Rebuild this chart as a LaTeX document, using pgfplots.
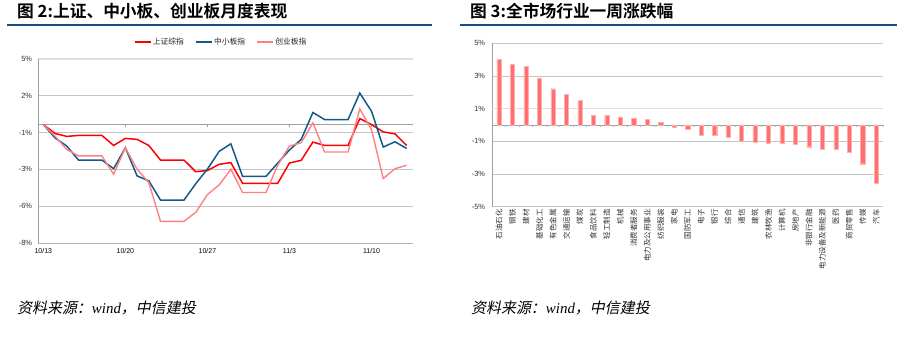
\documentclass[border=0pt]{standalone}
\usepackage{pgfplots}
\pgfplotsset{compat=1.18}
\usepackage{fontspec}
\setmainfont{Liberation Sans}
\newfontfamily\cjk{Noto Sans CJK SC}[BoldFont={Noto Sans CJK SC Bold}]
\newfontfamily\cjksl{Noto Sans CJK SC}[FakeSlant=0.2]
\newfontfamily\serifit{Liberation Serif}
\definecolor{cRed}{HTML}{FF0000}
\definecolor{cBlue}{HTML}{125A8A}
\definecolor{cPink}{HTML}{FF8080}
\definecolor{cBar}{HTML}{FF7171}
\definecolor{cNavy}{HTML}{1B4D85}
\definecolor{cGrid}{HTML}{C4C4C4}
\definecolor{cTxt}{HTML}{333333}
\begin{document}
\begin{tikzpicture}
\path[use as bounding box] (0bp,0bp) rectangle (904bp,339bp);
% titles
\node[anchor=west,inner sep=0pt] at (17bp,327.5bp) {\cjk\bfseries\fontsize{16.8}{17}\selectfont 图 2:上证、中小板、创业板月度表现};
\node[anchor=west,inner sep=0pt] at (470bp,327.5bp) {\cjk\bfseries\fontsize{16.8}{17}\selectfont 图 3:全市场行业一周涨跌幅};
\draw[cNavy,line width=2bp] (7bp,314bp) -- (432bp,314bp);
\draw[cNavy,line width=2bp] (460bp,314bp) -- (897bp,314bp);
% footers
\node[anchor=west,inner sep=0pt] at (17bp,31bp) {\cjksl\fontsize{15}{15}\selectfont 资料来源：{\serifit\itshape wind}，中信建投};
\node[anchor=west,inner sep=0pt] at (471bp,31bp) {\cjksl\fontsize{15}{15}\selectfont 资料来源：{\serifit\itshape wind}，中信建投};

% left chart
\begin{axis}[at={(38.3bp,96bp)}, anchor=south west, scale only axis,
  width=374.7bp, height=184bp,
  xmin=-0.427, xmax=31.54, ymin=-8.37, ymax=4.63,
  axis line style={draw=none},
  ytick={-8.37,-5.77,-3.17,-0.57,2.03,4.63},
  yticklabels={-8\%,-6\%,-3\%,-1\%,2\%,5\%},
  xtick={0,7,14,21,28},
  xticklabels={10/13,10/20,10/27,11/3,11/10},
  major tick length=0pt,
  tick style={draw=none},
  yticklabel style={font=\fontsize{7.5}{8}\selectfont, text=cTxt, inner sep=0pt, xshift=-6bp},
  xticklabel style={font=\fontsize{7}{8}\selectfont, text=black, inner sep=0pt, yshift=-5.5bp},
  ymajorgrids, major grid style={cGrid, line width=0.7bp},
  legend style={at={(0.487,1.094)}, anchor=center, draw=none, fill=none,
     legend columns=3, font=\cjk\fontsize{7.8}{8}\selectfont, text=black!85,
     /tikz/every even column/.append style={column sep=10bp},
     nodes={inner sep=1.2bp}},
  legend image code/.code={\draw[#1] (0bp,0bp) -- (16bp,0bp);},
  legend image post style={line width=1.8bp},
  clip=false,
]
\draw[gray!25,line width=2bp] (rel axis cs:0,1) -- (rel axis cs:1,1);
\draw[gray!75,line width=0.8bp] (axis cs:-0.427,0) -- (axis cs:31.54,0);
\draw[gray!75,line width=0.8bp] (rel axis cs:0,0) -- (rel axis cs:0,1);
\draw[gray!60,line width=0.8bp] (rel axis cs:0,0) -- (rel axis cs:1,0);
\pgfplotsinvokeforeach{7,14,21,28}{\draw[gray!75,line width=0.6bp] (axis cs:#1,0) -- ++(0bp,-2.5bp);}
\addplot[cRed, line width=1.5bp] coordinates {
(0,0) (1,-0.63) (2,-0.84) (3,-0.77) (4,-0.77) (5,-0.77) (6,-1.48) (7,-0.98)
(8,-1.05) (9,-1.48) (10,-2.51) (11,-2.51) (12,-2.51) (13,-3.33) (14,-3.25) (15,-2.81)
(16,-2.69) (17,-4.15) (18,-4.15) (19,-4.15) (20,-4.15) (21,-2.72) (22,-2.53) (23,-1.24)
(24,-1.48) (25,-1.48) (26,-1.48) (27,0.42) (28,0.0) (29,-0.52) (30,-0.66) (31,-1.48)};
\addlegendentry{上证综指}
\addplot[cBlue, line width=1.5bp] coordinates {
(0,0) (1,-0.94) (2,-1.52) (3,-2.51) (4,-2.51) (5,-2.51) (6,-3.12) (7,-1.64)
(8,-3.63) (9,-3.98) (10,-5.34) (11,-5.34) (12,-5.34) (13,-4.19) (14,-3.15) (15,-1.90)
(16,-1.36) (17,-3.66) (18,-3.66) (19,-3.66) (20,-2.72) (21,-1.80) (22,-1.05) (23,0.85)
(24,0.35) (25,0.35) (26,0.35) (27,2.22) (28,0.94) (29,-1.59) (30,-1.22) (31,-1.69)};
\addlegendentry{中小板指}
\addplot[cPink, line width=1.4bp] coordinates {
(0,0) (1,-0.82) (2,-1.76) (3,-2.22) (4,-2.22) (5,-2.22) (6,-3.51) (7,-1.64)
(8,-3.16) (9,-4.10) (10,-6.84) (11,-6.84) (12,-6.84) (13,-6.21) (14,-4.95) (15,-4.27)
(16,-3.16) (17,-4.80) (18,-4.80) (19,-4.80) (20,-2.87) (21,-1.52) (22,-1.29) (23,0.12)
(24,-1.94) (25,-1.94) (26,-1.94) (27,1.10) (28,-0.35) (29,-3.82) (30,-3.12) (31,-2.88)};
\addlegendentry{创业板指}
\end{axis}

% right chart
\begin{axis}[at={(492.3bp,132.3bp)}, anchor=south west, scale only axis,
  width=390.7bp, height=163.4bp,
  xmin=0.5, xmax=29.5, ymin=-5, ymax=5,
  axis line style={draw=none},
  ytick={-5,-3,-1,1,3,5},
  yticklabels={-5\%,-3\%,-1\%,1\%,3\%,5\%},
  xtick={1,...,29},
  xticklabels={石油石化,钢铁,建材,基础化工,有色金属,交通运输,煤炭,食品饮料,轻工制造,机械,消费者服务,电力及公用事业,纺织服装,家电,国防军工,电子,银行,综合,通信,建筑,农林牧渔,计算机,房地产,非银行金融,电力设备及新能源,医药,商贸零售,传媒,汽车},
  major tick length=0pt,
  tick style={draw=none},
  yticklabel style={font=\fontsize{7.5}{8}\selectfont, text=cTxt, inner sep=0pt, xshift=-7bp},
  xticklabel style={font=\cjk\fontsize{7.5}{8}\selectfont, text=cTxt, rotate=90, anchor=east, inner sep=2.5bp},
  ymajorgrids, major grid style={cGrid, line width=0.7bp},
  clip=false,
]
\draw[gray!75,line width=0.8bp] (rel axis cs:0,0) -- (rel axis cs:0,1);
\draw[gray!25,line width=1.6bp] (axis cs:0.5,1) -- (axis cs:29.5,1);
\draw[gray!75,line width=0.8bp] (axis cs:0.5,0) -- (axis cs:29.5,0);
\pgfplotsinvokeforeach{1.5,2.5,3.5,4.5,5.5,6.5,7.5,8.5,9.5,10.5,11.5,12.5,13.5,14.5,15.5,16.5,17.5,18.5,19.5,20.5,21.5,22.5,23.5,24.5,25.5,26.5,27.5,28.5,29.5}{\draw[gray!60,line width=0.6bp] (axis cs:#1,0) -- ++(0bp,-2.5bp);}
\addplot[ybar, bar width=4.2bp, fill=cBar, draw=cBar!55] coordinates {
(1,4.00) (2,3.73) (3,3.57) (4,2.88) (5,2.22) (6,1.86) (7,1.51) (8,0.61) (9,0.59) (10,0.49)
(11,0.41) (12,0.33) (13,0.18) (14,-0.12) (15,-0.24) (16,-0.61) (17,-0.61) (18,-0.76) (19,-0.98) (20,-1.04)
(21,-1.12) (22,-1.12) (23,-1.20) (24,-1.33) (25,-1.51) (26,-1.51) (27,-1.67) (28,-2.37) (29,-3.57)};
\end{axis}
\end{tikzpicture}
\end{document}
